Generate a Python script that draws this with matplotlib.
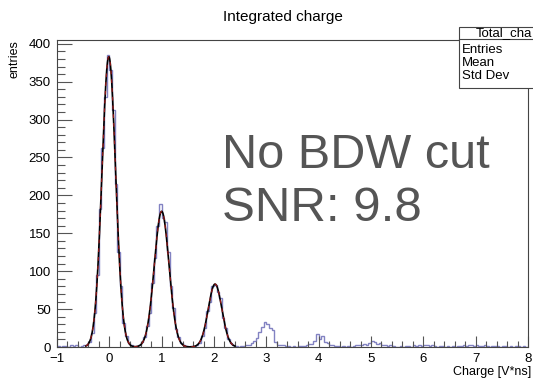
import numpy as np
import matplotlib
matplotlib.use("Agg")
import matplotlib.pyplot as plt
from matplotlib.ticker import MultipleLocator
from matplotlib.patches import Rectangle

plt.rcParams['font.family'] = ['Liberation Sans', 'DejaVu Sans']

# histogram: 180 bins of width 0.05 from -1 to 8
X_MIN, X_MAX, N_BINS = -1.0, 8.0, 180

counts = [
    # -0.975 .. -0.475
    1, 0, 1, 1, 0, 2, 1, 2, 0, 1, 2,
    # peak 0: -0.425 .. 0.425
    2, 6, 18, 45, 95, 182, 262, 330, 385, 366, 313, 215, 125, 80, 32, 15, 5, 2,
    # 0.475
    0,
    # peak 1: 0.525 .. 1.475
    1, 2, 6, 13, 28, 45, 85, 118, 160, 189, 170, 165, 125, 80, 52, 24, 13, 5,
    2, 1,
    # 1.525 .. 1.575
    0, 1,
    # peak 2: 1.625 .. 2.425
    1, 2, 5, 15, 25, 48, 60, 80, 82, 72, 64, 38, 25, 10, 5, 2, 1,
    # 2.475 .. 2.575
    0, 1, 1,
    # peak 3: 2.625 .. 3.325
    2, 3, 5, 8, 12, 20, 27, 33, 30, 25, 22, 6, 3, 3, 2,
    # 3.375 .. 3.675
    1, 1, 0, 1, 0, 1, 1,
    # peak 4: 3.725 .. 4.325
    1, 2, 4, 4, 8, 17, 10, 14, 6, 5, 3, 2, 1,
    # 4.375 .. 4.675
    1, 0, 1, 0, 1, 0, 1,
    # 4.725 .. 5.475
    3, 3, 2, 4, 3, 5, 8, 7, 4, 5, 2, 3, 1, 2, 1, 0,
    # 5.525 .. 7.975
    0, 1, 0, 1, 1, 0, 2, 1, 2, 1, 3,
    2, 1, 2, 1, 0, 1, 1, 0, 1, 0,
    1, 0, 1, 1, 2, 1, 3, 2, 1, 2,
    1, 1, 2, 1, 0, 1, 1, 1, 0, 1,
    1, 0, 1, 0, 1, 1, 0, 1, 0,
]

# multi-gaussian fit parameters
fit_amp = [383, 179, 83]
fit_mean = [-0.01, 1.0, 2.02]
fit_sigma = [0.13, 0.14, 0.13]
FIT_RANGE = (-0.45, 2.4)

edges = np.linspace(X_MIN, X_MAX, N_BINS + 1)

fig = plt.figure(figsize=(5.33, 3.8), dpi=100)
ax = fig.add_axes([57 / 533, 33 / 380, 471 / 533, 307 / 380])

ax.stairs(counts, edges, color='#8282c2', lw=1.0)

xf = np.linspace(FIT_RANGE[0], FIT_RANGE[1], 800)
yf = np.zeros_like(xf)
for a, m, s in zip(fit_amp, fit_mean, fit_sigma):
    yf += a * np.exp(-0.5 * ((xf - m) / s) ** 2)
ax.plot(xf, yf, color='black', lw=1.2)
ax.plot(xf, yf, color='#d02020', lw=0.9, ls=(0, (3, 4)), alpha=0.7)

ax.set_xlim(X_MIN, X_MAX)
ax.set_ylim(0, 405)

ax.xaxis.set_major_locator(MultipleLocator(1))
ax.xaxis.set_minor_locator(MultipleLocator(0.2))
ax.yaxis.set_major_locator(MultipleLocator(50))
ax.yaxis.set_minor_locator(MultipleLocator(10))
ax.tick_params(axis='x', which='major', direction='in', length=8, width=0.8,
               labelsize=9.5, pad=4, color='#555555')
ax.tick_params(axis='x', which='minor', direction='in', length=4, width=0.8,
               color='#555555')
ax.tick_params(axis='y', which='major', direction='in', length=11, width=0.8,
               labelsize=9.5, pad=4.5, color='#555555')
ax.tick_params(axis='y', which='minor', direction='in', length=5.5, width=0.8,
               color='#555555')
ax.set_xticks(np.arange(-1, 9, 1))
ax.set_xticklabels(['\u22121', '0', '1', '2', '3', '4', '5', '6', '7', '8'])
for sp in ax.spines.values():
    sp.set_linewidth(0.8)
    sp.set_color('#444444')

fig.text(531 / 533, 1 - 372 / 380, 'Charge [V*ns]', ha='right', va='center',
         fontsize=9)
fig.text(14 / 533, 1 - 40 / 380, 'entries', ha='center', va='top',
         rotation=90, fontsize=9)
fig.text(283 / 533, 1 - 17 / 380, 'Integrated charge', ha='center',
         va='center', fontsize=11)

ax.text(222 / 533, 1 - 168 / 380, 'No BDW cut', transform=fig.transFigure,
        ha='left', va='baseline', fontsize=35, color='#555555')
ax.text(222 / 533, 1 - 221 / 380, 'SNR: 9.8', transform=fig.transFigure,
        ha='left', va='baseline', fontsize=35.5, color='#555555')

# stats box, cut off by the right edge of the canvas
box = Rectangle((459 / 533, 1 - 88 / 380), 0.2, 61 / 380,
                transform=fig.transFigure, facecolor='white',
                edgecolor='#444444', lw=0.8, zorder=5)
fig.add_artist(box)
fig.add_artist(plt.Line2D([459 / 533, 1.0], [1 - 39 / 380, 1 - 39 / 380],
                          transform=fig.transFigure, color='#444444', lw=0.8,
                          zorder=6))
fig.text(476 / 533, 1 - 33 / 380, 'Total_cha', ha='left', va='center',
         fontsize=9.5, zorder=7)
for i, lab in enumerate(['Entries', 'Mean', 'Std Dev']):
    fig.text(462 / 533, 1 - (50 + 13 * i) / 380, lab, ha='left',
             va='center', fontsize=9.5, zorder=7)

fig.savefig('out.png', dpi=100)
